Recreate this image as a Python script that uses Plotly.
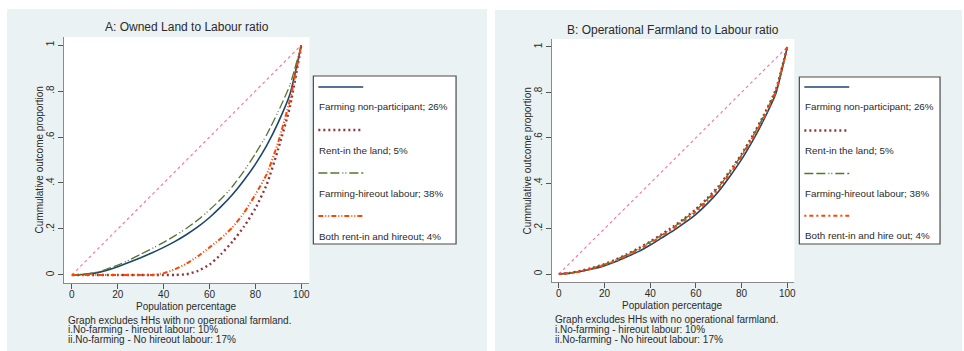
import plotly.graph_objects as go

W, H = 964, 351

# ---------------- data ----------------
pop = [0, 5, 10, 15, 20, 25, 30, 35, 40, 45, 50, 55, 60, 65, 70, 75, 80, 85, 90, 95, 100]

series_names = ["Farming non-participant; 26%", "Rent-in the land; 5%",
                "Farming-hireout labour; 38%", "Both rent-in and hireout; 4%"]
series_names_b = ["Farming non-participant; 26%", "Rent-in the land; 5%",
                  "Farming-hireout labour; 38%", "Both rent-in and hire out; 4%"]

# Panel A: Owned land to labour ratio
a_nonpart = [0, 0.002, 0.008, 0.02, 0.036, 0.055, 0.075, 0.097, 0.12, 0.146, 0.176, 0.21,
             0.25, 0.297, 0.35, 0.412, 0.482, 0.565, 0.665, 0.785, 1.0]
a_rentin = [0, 0, 0, 0, 0, 0, 0, 0, 0, 0, 0.003, 0.018, 0.045, 0.09, 0.145, 0.21, 0.29,
            0.395, 0.55, 0.73, 1.0]
a_hireout = [0, 0.003, 0.01, 0.024, 0.043, 0.065, 0.09, 0.115, 0.142, 0.171, 0.203, 0.24,
             0.283, 0.33, 0.385, 0.452, 0.528, 0.612, 0.712, 0.825, 1.0]
a_both = [0, 0, 0, 0, 0, 0, 0, 0, 0.008, 0.025, 0.05, 0.082, 0.12, 0.16, 0.207, 0.27, 0.35,
          0.44, 0.58, 0.76, 1.0]

# Panel B: Operational farmland to labour ratio
b_nonpart = [0, 0.004, 0.012, 0.023, 0.037, 0.055, 0.077, 0.1, 0.128, 0.159, 0.19, 0.225,
             0.263, 0.31, 0.365, 0.432, 0.505, 0.59, 0.685, 0.795, 1.0]
b_rentin = [0, 0.005, 0.015, 0.028, 0.044, 0.064, 0.088, 0.114, 0.143, 0.175, 0.208, 0.245,
            0.285, 0.333, 0.388, 0.455, 0.528, 0.612, 0.705, 0.812, 1.0]
b_hireout = [0, 0.005, 0.014, 0.027, 0.043, 0.063, 0.086, 0.112, 0.141, 0.172, 0.205, 0.242,
             0.281, 0.329, 0.384, 0.451, 0.524, 0.608, 0.701, 0.809, 1.0]
b_both = [0, 0.004, 0.013, 0.025, 0.04, 0.059, 0.082, 0.107, 0.136, 0.167, 0.2, 0.236,
          0.274, 0.321, 0.376, 0.443, 0.516, 0.6, 0.694, 0.803, 1.0]

equal_x = [0, 100]
equal_y = [0, 1]

x_ticks = [0, 20, 40, 60, 80, 100]
y_ticks = [0, 0.2, 0.4, 0.6, 0.8, 1]
y_ticktext = ["0", ".2", ".4", ".6", ".8", "1"]

titles = ["A: Owned Land to Labour ratio", "B: Operational Farmland to Labour ratio"]
x_title = "Population percentage"
y_title = "Cummulative outcome proportion"
notes = ["Graph excludes HHs with no operational farmland.",
         "i.No-farming - hireout labour: 10%",
         "ii.No-farming - No hireout labour: 17%"]

# ---------------- styles ----------------
FONT = "Liberation Sans, Arial, sans-serif"
TXT = "#2a2a2a"
BG = "#eaf2f3"
styles = [
    dict(color="#1a476f", width=1.6, dash="solid"),
    dict(color="#90353b", width=2.4, dash="2px,3px"),
    dict(color="#55752f", width=1.3, dash="9px,3px,9px,3px,1px,2px,1px,3px"),
    dict(color="#ff4500", width=2.0, dash="5px,2px,1px,2px,1px,2px"),
]
styles_b = [
    styles[0], styles[1], styles[2],
    dict(color="#ff4500", width=2.0, dash="2px,3px,4px,3px"),
]
pink = dict(color="#ff6f9c", width=1.1, dash="dot")


def px(x):
    return x / W


def py(y):
    return 1 - y / H


fig = go.Figure()

panels = [
    dict(xa="x", ya="y", data=[a_nonpart, a_rentin, a_hireout, a_both], st=styles),
    dict(xa="x2", ya="y2", data=[b_nonpart, b_rentin, b_hireout, b_both], st=styles_b),
]
for p in panels:
    fig.add_trace(go.Scatter(x=equal_x, y=equal_y, mode="lines", line=pink,
                             xaxis=p["xa"], yaxis=p["ya"], showlegend=False))
    for vals, st in zip(p["data"], p["st"]):
        fig.add_trace(go.Scatter(x=pop, y=vals, mode="lines",
                                 line=dict(st, shape="spline", smoothing=0.5),
                                 xaxis=p["xa"], yaxis=p["ya"], showlegend=False))

# geometry (pixels)
geo = [
    dict(panel=(7, 9, 488, 351), plot=(64, 37, 310, 283), xr=[-3.48, 103.5],
         title=(187, 27), ytx=39.5, xt=(187, 306), notes=(67, 320),
         leg=(314, 76, 457, 244), legx=(319, 364), legy=[87, 130, 173, 216],
         names=series_names, st=styles),
    dict(panel=(496, 10, 964, 351), plot=(553, 39, 796, 282), xr=[-3.06, 103.1],
         title=(674, 30), ytx=529, xt=(674, 305.5), notes=(555, 319.5),
         leg=(801, 77, 942, 244), legx=(806, 851), legy=[87, 130.5, 173.5, 215.7],
         names=series_names_b, st=styles_b),
]

shapes = []
annos = []
axis_common = dict(showgrid=False, zeroline=False, showline=True, linecolor="#8a8a8a",
                   linewidth=1.2, ticks="outside", ticklen=5, tickcolor="#555",
                   tickwidth=1, tickfont=dict(family=FONT, size=10, color=TXT))
for i, g in enumerate(geo):
    x0, y0, x1, y1 = g["panel"]
    shapes.append(dict(type="rect", xref="paper", yref="paper", x0=px(x0), x1=px(x1),
                       y0=py(y1), y1=py(y0), fillcolor=BG, line=dict(width=0), layer="below"))
    lx0, ly0, lx1, ly1 = g["plot"]
    shapes.append(dict(type="rect", xref="paper", yref="paper", x0=px(lx0), x1=px(lx1),
                       y0=py(ly1), y1=py(ly0), fillcolor="white", line=dict(width=0), layer="below"))
    sfx = "" if i == 0 else "2"
    fig.layout["xaxis" + sfx] = dict(axis_common, domain=[px(lx0), px(lx1)], range=g["xr"],
                                     tickvals=x_ticks, anchor="y" + sfx, ticklabelstandoff=-3)
    fig.layout["yaxis" + sfx] = dict(axis_common, domain=[py(ly1), py(ly0)],
                                     range=[-0.035, 1.035], tickvals=y_ticks,
                                     ticktext=y_ticktext, tickangle=-90, anchor="x" + sfx)
    # titles
    annos.append(dict(text=titles[i], x=px(g["title"][0]), y=py(g["title"][1]),
                      xref="paper", yref="paper", showarrow=False, xanchor="center",
                      yanchor="middle", font=dict(family=FONT, size=12, color=TXT)))
    annos.append(dict(text=x_title, x=px(g["xt"][0]), y=py(g["xt"][1]),
                      xref="paper", yref="paper", showarrow=False, xanchor="center",
                      yanchor="middle", font=dict(family=FONT, size=10, color=TXT)))
    annos.append(dict(text=y_title, x=px(g["ytx"]), y=py((ly0 + ly1) / 2),
                      xref="paper", yref="paper", showarrow=False, xanchor="center",
                      yanchor="middle", textangle=-90,
                      font=dict(family=FONT, size=10, color=TXT)))
    nx, ny = g["notes"]
    for k, t in enumerate(notes):
        annos.append(dict(text=t, x=px(nx - 1), y=py(ny + k * 9.8), xref="paper", yref="paper",
                          showarrow=False, xanchor="left", yanchor="middle",
                          font=dict(family=FONT, size=10, color=TXT)))
    # legend box
    bx0, by0, bx1, by1 = g["leg"]
    shapes.append(dict(type="rect", xref="paper", yref="paper", x0=px(bx0), x1=px(bx1),
                       y0=py(by1), y1=py(by0), fillcolor="white",
                       line=dict(color="#4a4a4a", width=1.2)))
    sx0, sx1 = g["legx"]
    for k, (nm, st) in enumerate(zip(g["names"], g["st"])):
        yy = g["legy"][k]
        shapes.append(dict(type="line", xref="paper", yref="paper", x0=px(sx0), x1=px(sx1),
                           y0=py(yy), y1=py(yy),
                           line=dict(color=st["color"], width=st["width"], dash=st["dash"])))
        annos.append(dict(text=nm, x=px(sx0 - 1), y=py(yy + 20), xref="paper", yref="paper",
                          showarrow=False, xanchor="left", yanchor="middle",
                          font=dict(family=FONT, size=9.8, color=TXT)))

fig.update_layout(width=W, height=H, margin=dict(l=0, r=0, t=0, b=0),
                  paper_bgcolor="white", plot_bgcolor="rgba(0,0,0,0)",
                  shapes=shapes, annotations=annos, showlegend=False,
                  font=dict(family=FONT, color=TXT))

fig.write_html("out.html", config={"displayModeBar": False},
               post_script="document.body.style.margin='0';document.body.style.overflow='hidden';")
